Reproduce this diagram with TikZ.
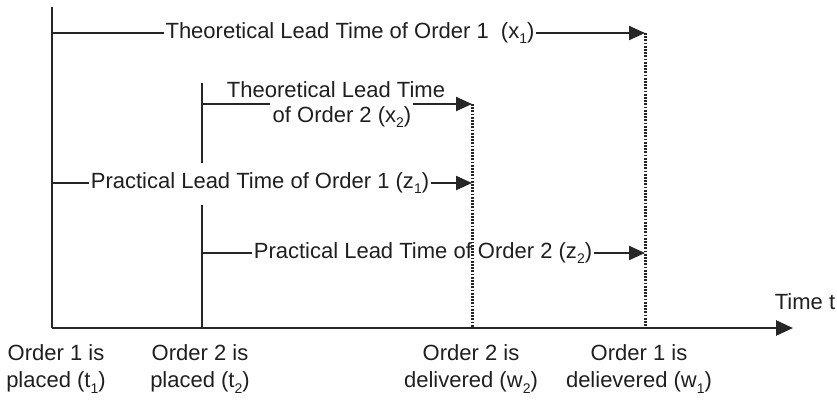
\documentclass[tikz,border=0pt]{standalone}
\usepackage{fontspec}
\setmainfont{Liberation Sans}
\usetikzlibrary{arrows.meta}
\newcommand{\sbs}[1]{\raisebox{-0.45ex}{\fontsize{14}{14}\selectfont #1}}
\begin{document}
\begin{tikzpicture}[x=1pt,y=-1pt,
  lbl/.style={font=\fontsize{22}{27}\selectfont, text=black!88, inner sep=1.5pt, align=center},
  axis/.style={line width=2.8pt, draw=black!85},
  conn/.style={line width=2.2pt, draw=black!85},
  arr/.style={conn, -{Triangle[length=16pt,width=14pt]}},
  dots/.style={line width=3pt, draw=black!85, dash pattern=on 1.8pt off 1.4pt}]
\useasboundingbox (0,0) rectangle (837,400);
% axes
\coordinate (O) at (52,328);
\coordinate (Ytop) at (52,7);
\coordinate (Xend) at (793,328);
\draw[axis] (Ytop) -- (O);
\draw[axis, -{Triangle[length=17pt,width=15pt]}] (O) -- (Xend);
\node[lbl] (timet) at (805,302) {Time t};
% order 2 placement line
\coordinate (P2a) at (202,83);
\coordinate (P2b) at (202,163);
\coordinate (P2c) at (202,205);
\coordinate (P2d) at (202,328);
\draw[axis] (P2a) -- (P2b);
\draw[axis] (P2c) -- (P2d);
% delivery dotted lines
\coordinate (W2top) at (472,104);
\coordinate (W2bot) at (472,328);
\coordinate (W1top) at (645,33);
\coordinate (W1bot) at (645,328);
\draw[dots] (W2top) -- (W2bot);
\draw[dots] (W1top) -- (W1bot);
% arrow 1
\node[lbl] (L1) at (350,33) {Theoretical Lead Time of Order 1~ (x\sbs{1})};
\coordinate (L1s) at (52,33);
\draw[conn] (L1s) -- (L1.west);
\draw[arr] (L1.east) -- (W1top);
% arrow 2
\node[lbl] (L2a) at (336,90) {Theoretical Lead Time};
\node[lbl] (L2b) at (342,117) {of Order 2 (x\sbs{2})};
\coordinate (L2s) at (202,104);
\coordinate (L2m) at (270,104);
\coordinate (L2n) at (413,104);
\draw[conn] (L2s) -- (L2m);
\draw[arr] (L2n) -- (W2top);
% arrow 3
\node[lbl] (L3) at (260,183) {Practical Lead Time of Order 1 (z\sbs{1})};
\coordinate (L3s) at (52,183);
\coordinate (L3e) at (472,183);
\draw[conn] (L3s) -- (L3.west);
\draw[arr] (L3.east) -- (L3e);
% arrow 4
\node[lbl] (L4) at (423,253) {Practical Lead Time of Order 2 (z\sbs{2})};
\coordinate (L4s) at (202,253);
\coordinate (L4e) at (645,253);
\draw[conn] (L4s) -- (L4.west);
\draw[arr] (L4.east) -- (L4e);
% bottom labels
\node[lbl] (B1) at (56,369) {Order 1 is\\placed (t\sbs{1})};
\node[lbl] (B2) at (200,369) {Order 2 is\\placed (t\sbs{2})};
\node[lbl] (B3) at (471,369) {Order 2 is\\delivered (w\sbs{2})};
\node[lbl] (B4) at (639,369) {Order 1 is\\delievered (w\sbs{1})};
\end{tikzpicture}
\end{document}
